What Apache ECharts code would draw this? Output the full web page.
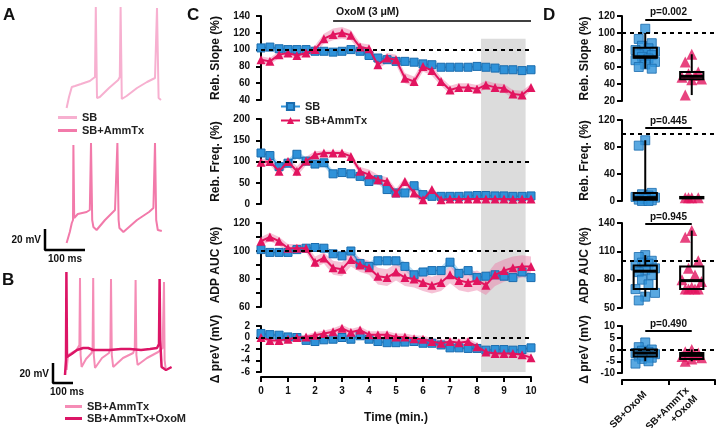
<!DOCTYPE html>
<html><head><meta charset="utf-8">
<script src="https://cdn.jsdelivr.net/npm/echarts@6/dist/echarts.min.js"></script>
<style>html,body{margin:0;padding:0;background:#fff}#c{width:720px;height:428px}</style>
</head><body><div id="c"></div>
<script>
// ---------- Panel C data (time course) ----------
const time = [0,0.33,0.67,1,1.33,1.67,2,2.33,2.67,3,3.33,3.67,4,4.33,4.67,5,5.33,5.67,6,6.33,6.67,7,7.33,7.67,8,8.33,8.67,9,9.33,9.67,10];
const slopeSB    = [102,103,101,100,100,100,98,98,97,98,100,98,93,90,88,86,86,85,83,82,79,79,79,79,80,79,78,76,76,75,76];
const slopeSBErr = [3,3,2,2,2,2,2,2,2,2,2,2,3,3,3,3,3,3,3,3,3,3,3,3,3,3,3,3,3,3,3];
const slopeAm    = [88,86,94,96,93,96,100,113,118,120,117,103,101,82,90,88,66,62,80,75,62,52,55,55,53,58,55,54,47,46,55];
const slopeAmErr = [4,4,4,4,4,4,5,6,7,7,6,5,5,5,6,6,6,6,6,6,5,5,5,5,5,5,5,5,5,5,4];
const freqSB     = [120,114,88,96,117,101,94,97,71,74,71,65,53,57,34,26,26,43,22,18,18,18,18,19,20,20,19,19,18,18,19];
const freqSBErr  = [8,8,8,8,10,8,8,8,8,8,8,8,8,8,8,8,8,8,8,6,5,5,5,5,5,5,5,5,5,5,5];
const freqAm     = [98,100,77,100,77,101,116,120,120,120,112,77,69,57,53,26,53,26,10,34,10,12,12,12,12,12,12,12,11,12,12];
const freqAmErr  = [8,8,10,10,12,10,8,6,6,6,8,10,12,12,10,10,10,10,8,8,5,4,4,4,4,4,4,4,4,4,4];
const aucSB      = [101,99,99,99,101,102,102.5,102,98,96.5,100,91,89,93,93,93,89,83,85,86,86,92,84,86,81,82,83,82,81,85,81];
const aucSBErr   = [2,2,2,2,2,2,2,2,2,2,3,3,3,3,3,3,3,3,3,3,3,3,3,3,3,3,3,3,3,3,3];
const aucAm      = [107,110,107,102,102,102,92,95,88,87,94,90,88,82,81,85,81,80,77.5,75.6,77.5,83,79,77.5,79,75.6,83,86,88,89,89];
const aucAmErr   = [3,3,3,3,3,3,4,4,5,5,5,5,5,6,6,6,6,6,6,6,6,6,7,7,7,7,8,8,8,8,7];
const prevSB     = [0.7,0.5,0.4,0.1,0,-0.5,-0.7,-0.4,-0.3,0,-0.3,0.3,-0.3,-0.7,-0.9,-0.9,-0.8,-0.7,-1.0,-1.0,-1.3,-1.8,-1.8,-1.9,-1.9,-2.2,-2.1,-2.1,-2.2,-2.1,-1.8];
const prevSBErr  = [0.3,0.3,0.3,0.3,0.3,0.3,0.3,0.3,0.3,0.3,0.3,0.3,0.3,0.3,0.3,0.3,0.3,0.3,0.3,0.3,0.3,0.3,0.3,0.3,0.3,0.3,0.3,0.3,0.3,0.3,0.3];
const prevAm     = [0,-0.5,-0.5,-0.3,0,0.1,0.4,0.7,1.0,1.6,0.9,1.3,0.5,0.5,0.5,0.1,0.1,-0.2,-0.3,-0.7,-1.0,-0.7,-0.9,-0.7,-1.6,-2.5,-2.8,-2.8,-2.8,-3.0,-3.5];
const prevAmErr  = [0.4,0.4,0.4,0.4,0.4,0.4,0.5,0.5,0.6,0.6,0.6,0.6,0.6,0.6,0.6,0.6,0.6,0.6,0.6,0.6,0.6,0.6,0.6,0.6,0.6,0.6,0.6,0.6,0.6,0.6,0.6];
const refLines   = [100,100,100,0];
const oxoStart = 2.67, oxoEnd = 10, oxoY = 134;
const shadeStart = 8.15, shadeEnd = 9.8, shadeTop = 113, shadeBottom = -6;

// ---------- Panel D data (box plots) ----------
const categoriesD = ['SB+OxoM', 'SB+AmmTx\n+OxoM'];
const boxSlopeSB = [58,70.8,72,82.6,100];
const boxSlopeAm = [27,45.6,49,54,75];
const boxFreqSB  = [0,2,5,12,90];
const boxFreqAm  = [3,4,5,6,7];
const boxAucSB   = [62,70,89,95,106];
const boxAucAm   = [70,70,79,94,132];
const boxPrevSB  = [-5,-3,-1.5,0,1];
const boxPrevAm  = [-5,-4,-2.5,-1.5,0];
const ptsSlopeSB = [105,93,88,85,82,80,78,77,75,74,72,70,68,66,63,60,58];
const ptsSlopeAm = [75,66,54,52,50,48,46,45,27];
const ptsFreqSB  = [90,82,12,10,8,6,5,3,2,1,0,0];
const ptsFreqAm  = [5,5,5,5];
const ptsAucSB   = [106,104,100,98,97,95,92,90,88,85,80,75,70,66,62,58];
const ptsAucAm   = [132,125,100,92,85,80,78,72,70,70,70,70];
const ptsPrevSB  = [3,1,0,-0.5,-1,-1.5,-2,-2.5,-3,-3.5,-4,-5,-6];
const ptsPrevAm  = [0,-1,-1.5,-2,-2.5,-3,-3.5,-4,-5];
const pLabels = ['p=0.002','p=0.445','p=0.945','p=0.490'];
const pLineVals = [116,108,139,7.9];
const dTicks = [[20,40,60,80,100,120],[0,40,80,120],[50,80,110,140],[-10,-5,0,5,10]];
const dPrevLabelsA = [-10,0,10];
const dPrevLabelsB = [-5,5];

// ---------- Panels A / B traces (ms, mV offset) ----------
const traceA_SB = [[54,152],[60,163],[67,173],[75,174],[90,176],[112,179],[125,183],[127,253],[130,162],[137,163],[142,165],[160,172],[183,180],[187,183],[189,253],[192,161],[204,164],[230,172],[255,178],[275,182],[280,252],[284,162],[290,160]];
const traceA_Am = [[54,17],[62,28],[67,37],[70,40],[71,115],[73,42],[75,44],[82,46],[104,48],[112,50],[115,117],[118,40],[121,33],[129,30],[150,40],[175,50],[178,52],[181,117],[184,40],[186,32],[196,28],[230,40],[260,48],[271,52],[275,117],[278,40],[282,30],[292,29]];
const traceB_Am = [[108,30],[115,45],[140,48],[158,50],[172,55],[175,122],[178,45],[183,33],[205,41],[233,47],[238,52],[241,122],[244,45],[250,32],[285,42],[320,47],[327,52],[330,121],[334,45],[341,33],[390,42],[441,47],[449,52],[453,120],[457,45],[463,35],[510,42],[566,48],[588,52],[595,118],[598,40],[603,32]];
const traceB_Ox = [[100,25],[105,40],[107,128],[110,43],[120,45],[133,46],[160,50],[191,52],[216,52],[241,50],[280,50],[325,50],[380,51],[425,51],[480,50],[525,51],[560,52],[570,56],[573,121],[576,60],[583,33],[605,30],[633,33]];
const scaleA = [[0,31],[0,10],[100,10]];
const scaleB = [[40,37],[40,17],[140,17]];

// ---------- styles ----------
const FONT = '"Liberation Sans", Arial, Helvetica, sans-serif';
const BLUE = '#2f92d9', BLUE_B = '#1a6cae', PINK = '#e2145f';
const BLUE_BAND = 'rgba(120,190,235,0.55)', PINK_BAND = 'rgba(235,120,165,0.45)';
const axLine = {show:true, onZero:false, lineStyle:{color:'#000', width:2}};
const axTick = {show:true, length:5, lineStyle:{color:'#000', width:2}};
const axLabel = {color:'#111', fontWeight:'bold', fontSize:10, fontFamily:FONT, showMinLabel:true, showMaxLabel:true, hideOverlap:false};
const nameStyle = {color:'#111', fontWeight:'bold', fontSize:12, fontFamily:FONT};

const chart = echarts.init(document.getElementById('c'), null, {renderer:'canvas', width:720, height:428});

const gridBoxes = [
  [261,16,270,84],[261,119,270,85],[261,223,270,84],[261,326,270,46],
  [622,16,93,85],[622,120,93,81],[622,223,93,85],[622,326,93,47],
  [45,0,140,260],[45,260,140,140]
];
const grids = gridBoxes.map(b=>({left:b[0], top:b[1], width:b[2], height:b[3], containLabel:false, outerBoundsMode:'none'}));

const cSpecs = [
  {name:'Reb. Slope (%)', min:40, max:140, interval:20},
  {name:'Reb. Freq. (%)', min:0, max:200, interval:50},
  {name:'ADP AUC (%)', min:60, max:120, interval:20, minor:true},
  {name:'Δ preV (mV)', min:-6, max:2, interval:2}
];
const dSpecs = [
  {name:'Reb. Slope (%)', min:20, max:120},
  {name:'Reb. Freq. (%)', min:0, max:120},
  {name:'ADP AUC (%)', min:50, max:140},
  {name:'Δ preV (mV)', min:-10, max:10}
];

const xAxes = [], yAxes = [];
for (let k=0;k<4;k++){
  xAxes.push({type:'value', gridIndex:k, min:0, max:10, interval:1, show:k===3, offset:5,
    axisLine:axLine, axisTick:axTick, axisLabel:{...axLabel, margin:9}, splitLine:{show:false},
    name:k===3?'Time (min.)':'', nameLocation:'middle', nameGap:35, nameTextStyle:nameStyle});
}
for (let k=0;k<4;k++){
  xAxes.push({type:'category', gridIndex:4+k, data:categoriesD, show:k===3, offset:7,
    axisLine:axLine, axisTick:{...axTick, alignWithLabel:false},
    axisLabel:{color:'#111', fontWeight:'bold', fontSize:10, fontFamily:FONT, rotate:45, interval:0, margin:13, lineHeight:12}});
}
for (let k=0;k<4;k++){
  xAxes.push({type:'value', gridIndex:4+k, min:0, max:2, show:false});
}
xAxes.push({type:'value', gridIndex:8, min:0, max:350, show:false});
xAxes.push({type:'value', gridIndex:9, min:0, max:700, show:false});

cSpecs.forEach((s,k)=>{
  yAxes.push({type:'value', gridIndex:k, min:s.min, max:s.max, interval:s.interval,
    axisLine:axLine, axisTick:axTick, axisLabel:{...axLabel, margin:11}, splitLine:{show:false},
    minorTick:s.minor?{show:true, splitNumber:2, length:5, lineStyle:{color:'#000', width:2}}:{show:false},
    name:s.name, nameLocation:'middle', nameGap:39, nameTextStyle:nameStyle});
});
dSpecs.forEach((s,k)=>{
  const labVals = k===3 ? dPrevLabelsA : dTicks[k];
  yAxes.push({type:'value', gridIndex:4+k, min:s.min, max:s.max,
    axisLine:axLine, axisTick:{...axTick, customValues:dTicks[k]},
    axisLabel:{...axLabel, margin:7, customValues:labVals}, splitLine:{show:false},
    name:s.name, nameLocation:'middle', nameGap:31, nameTextStyle:nameStyle});
});
yAxes.push({type:'value', gridIndex:8, min:0, max:260, show:false});
yAxes.push({type:'value', gridIndex:9, min:0, max:140, show:false});

const series = [];
function band(gi, mean, err, color){
  const lo = mean.map((m,i)=>m-err[i]), hi = mean.map((m,i)=>m+err[i]);
  series.push({type:'custom', xAxisIndex:gi, yAxisIndex:gi, silent:true, z:1,
    data:time.map((t,i)=>[t, lo[i], hi[i]]), encode:{x:0, y:[1,2]},
    renderItem:(params, api)=>{
      if (params.dataIndex !== 0) return null;
      const pts = [];
      for (let i=0;i<time.length;i++) pts.push(api.coord([time[i], hi[i]]));
      for (let i=time.length-1;i>=0;i--) pts.push(api.coord([time[i], lo[i]]));
      return {type:'polygon', shape:{points:pts}, style:{fill:color}};
    }});
}
const cData = [[slopeSB,slopeSBErr,slopeAm,slopeAmErr],[freqSB,freqSBErr,freqAm,freqAmErr],[aucSB,aucSBErr,aucAm,aucAmErr],[prevSB,prevSBErr,prevAm,prevAmErr]];
cData.forEach((d,k)=>{
  band(k, d[0], d[1], BLUE_BAND);
  band(k, d[2], d[3], PINK_BAND);
});
cData.forEach((d,k)=>{
  const mlData = [{yAxis:refLines[k]}];
  if (k===0){
    mlData.push([{coord:[oxoStart, oxoY], lineStyle:{type:'solid', width:1.5, color:'#000'},
      label:{show:true, formatter:'OxoM (3 μM)', position:'insideStartTop', distance:3, color:'#111', fontWeight:'bold', fontSize:10.5, fontFamily:FONT}},
      {coord:[oxoEnd, oxoY]}]);
  }
  series.push({name:'SB', type:'line', xAxisIndex:k, yAxisIndex:k, data:time.map((t,i)=>[t,d[0][i]]),
    symbol:'rect', symbolSize:8, itemStyle:{color:BLUE, borderColor:BLUE_B, borderWidth:1},
    lineStyle:{color:BLUE, width:1.5}, z:3, emphasis:{disabled:true},
    markLine:{silent:true, symbol:'none', label:{show:false}, lineStyle:{color:'#000', type:[4,4], width:2}, data:mlData}});
  series.push({name:'SB+AmmTx', type:'line', xAxisIndex:k, yAxisIndex:k, data:time.map((t,i)=>[t,d[2][i]]),
    symbol:'triangle', symbolSize:9, itemStyle:{color:PINK},
    lineStyle:{color:PINK, width:2}, z:4, emphasis:{disabled:true}});
});

// D panels
const jitter = [0,-0.14,0.14,-0.07,0.07,-0.21,0.21];
const boxes = [[boxSlopeSB,boxSlopeAm],[boxFreqSB,boxFreqAm],[boxAucSB,boxAucAm],[boxPrevSB,boxPrevAm]];
const pts = [[ptsSlopeSB,ptsSlopeAm],[ptsFreqSB,ptsFreqAm],[ptsAucSB,ptsAucAm],[ptsPrevSB,ptsPrevAm]];
function boxRender(params, api){
  const x = api.value(0);
  const lo = api.coord([x, api.value(1)]), q1 = api.coord([x, api.value(2)]), md = api.coord([x, api.value(3)]),
        q3 = api.coord([x, api.value(4)]), hi = api.coord([x, api.value(5)]);
  const w = api.size([1,0])[0]*0.5;
  const st = {stroke:'#000', lineWidth:2, fill:'rgba(0,0,0,0)'};
  return {type:'group', children:[
    {type:'line', shape:{x1:lo[0],y1:lo[1],x2:q1[0],y2:q1[1]}, style:st},
    {type:'line', shape:{x1:q3[0],y1:q3[1],x2:hi[0],y2:hi[1]}, style:st},
    {type:'rect', shape:{x:q3[0]-w/2, y:q3[1], width:w, height:Math.max(1,q1[1]-q3[1])}, style:st},
    {type:'line', shape:{x1:md[0]-w/2,y1:md[1],x2:md[0]+w/2,y2:md[1]}, style:{stroke:'#000', lineWidth:3}}
  ]};
}
for (let k=0;k<4;k++){
  series.push({type:'scatter', xAxisIndex:8+k, yAxisIndex:4+k, silent:true,
    data:pts[k][0].map((v,i)=>[0.5+jitter[i%7], v]), symbol:'rect', symbolSize:9,
    itemStyle:{color:BLUE, borderColor:BLUE_B, borderWidth:1}, z:2,
    markLine:{silent:true, symbol:'none', label:{show:false}, lineStyle:{color:'#000', type:[4,4], width:2},
      data:[{yAxis:refLines[k]},
        [{coord:[0.5, pLineVals[k]], lineStyle:{type:'solid', width:2, color:'#000'},
          label:{show:true, formatter:pLabels[k], position:'middle', distance:2, color:'#111', fontWeight:'bold', fontSize:10, fontFamily:FONT}},
         {coord:[1.5, pLineVals[k]]}]]}});
  series.push({type:'scatter', xAxisIndex:8+k, yAxisIndex:4+k, silent:true,
    data:pts[k][1].map((v,i)=>[1.5+jitter[i%7], v]), symbol:'triangle', symbolSize:11,
    itemStyle:{color:PINK}, z:2});
  series.push({type:'custom', xAxisIndex:4+k, yAxisIndex:4+k, silent:true, renderItem:boxRender,
    data:[[0,...boxes[k][0]],[1,...boxes[k][1]]], encode:{x:0, y:[1,2,3,4,5]}, z:5});
}

// traces
series.push({name:'A_SB', type:'line', xAxisIndex:12, yAxisIndex:8, data:traceA_SB, symbol:'none', lineStyle:{color:'#f7b0d0', width:2}, itemStyle:{color:'#f7b0d0'}, silent:true});
series.push({name:'A_SB+AmmTx', type:'line', xAxisIndex:12, yAxisIndex:8, data:traceA_Am, symbol:'none', lineStyle:{color:'#f27aaa', width:2}, itemStyle:{color:'#f27aaa'}, silent:true});
series.push({name:'B_SB+AmmTx', type:'line', xAxisIndex:13, yAxisIndex:9, data:traceB_Am, symbol:'none', lineStyle:{color:'#f58cb6', width:2}, itemStyle:{color:'#f58cb6'}, silent:true, z:2});
series.push({name:'B_SB+AmmTx+OxoM', type:'line', xAxisIndex:13, yAxisIndex:9, data:traceB_Ox, symbol:'none', lineStyle:{color:'#dc1566', width:2.5}, itemStyle:{color:'#dc1566'}, silent:true, z:3});
series.push({type:'line', xAxisIndex:12, yAxisIndex:8, data:scaleA, symbol:'none', lineStyle:{color:'#000', width:2.5}, silent:true});
series.push({type:'line', xAxisIndex:13, yAxisIndex:9, data:scaleB, symbol:'none', lineStyle:{color:'#000', width:2.5}, silent:true});

const legText = {color:'#222', fontWeight:'bold', fontSize:11, fontFamily:FONT};
const option = {
  animation:false,
  backgroundColor:'#fff',
  grid:grids, xAxis:xAxes, yAxis:yAxes, series:series,
  legend:[
    {data:['SB','SB+AmmTx'], left:280, top:101, padding:0, orient:'vertical', itemGap:3, itemWidth:19, itemHeight:9, textStyle:legText, selectedMode:false},
    {data:['A_SB','A_SB+AmmTx'], left:58, top:112, padding:0, orient:'vertical', itemGap:2, itemWidth:19, itemHeight:3, icon:'rect', textStyle:legText, selectedMode:false, formatter:n=>n.slice(2)},
    {data:['B_SB+AmmTx','B_SB+AmmTx+OxoM'], left:65, top:401, padding:0, orient:'vertical', itemGap:1, itemWidth:17, itemHeight:3, icon:'rect', textStyle:legText, selectedMode:false, formatter:n=>n.slice(2)}
  ]
};
chart.setOption(option);

// annotations placed through the axes
const g = [];
const s1 = chart.convertToPixel({gridIndex:0}, [shadeStart, shadeTop]);
const s2 = chart.convertToPixel({gridIndex:3}, [shadeEnd, shadeBottom]);
g.push({type:'rect', z:-10, silent:true, shape:{x:s1[0], y:s1[1], width:s2[0]-s1[0], height:s2[1]-s1[1]}, style:{fill:'#dcdcdc'}});
// remaining D4 tick labels, vertical position through the D4 value axis
dPrevLabelsB.forEach(v=>{
  const py = chart.convertToPixel({gridIndex:7}, [0, v])[1];
  g.push({type:'text', silent:true, z:10, x:gridBoxes[7][0]-7, y:py, style:{text:String(v), fill:'#111', font:'bold 10px '+FONT, textAlign:'right', textVerticalAlign:'middle'}});
});
function scaleLabels(gi, bar, dx){
  const top = chart.convertToPixel({gridIndex:gi}, bar[0]);
  const corner = chart.convertToPixel({gridIndex:gi}, bar[1]);
  const end = chart.convertToPixel({gridIndex:gi}, bar[2]);
  g.push({type:'text', silent:true, x:corner[0]-4, y:(top[1]+corner[1])/2+1, style:{text:'20 mV', fill:'#111', font:'bold 10px '+FONT, textAlign:'right', textVerticalAlign:'middle'}});
  g.push({type:'text', silent:true, x:(corner[0]+end[0])/2+dx, y:corner[1]+4, style:{text:'100 ms', fill:'#111', font:'bold 10px '+FONT, textAlign:'center', textVerticalAlign:'top'}});
}
scaleLabels(8, scaleA, 0);
scaleLabels(9, scaleB, 4);
[['A',3,15],['B',2,280],['C',187,15],['D',543,15]].forEach(p=>{
  g.push({type:'text', silent:true, x:p[1], y:p[2], style:{text:p[0], fill:'#111', font:'bold 17px '+FONT, textAlign:'left', textVerticalAlign:'middle'}});
});
chart.setOption({graphic:g});
</script></body></html>
